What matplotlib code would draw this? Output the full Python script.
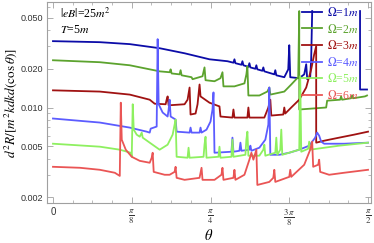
import numpy as np
import matplotlib
matplotlib.use('Agg')
import matplotlib.pyplot as plt

plt.rcParams['mathtext.fontset'] = 'stix'
plt.rcParams['font.family'] = ['Liberation Sans', 'DejaVu Sans']

nan = np.nan

# theta in degrees, rate values
th1 = [0, 13.39, 21.93, 30.47, 37.59, 44.71, 49.84, 51.55, 51.84, 52.12, 53.83, 54.12, 54.40,
       55.82, 56.11, 56.39, 57.81, 58.10, 58.38, 59.81, 60.09, 60.38, 63.23, 63.51, 63.80,
       66.08, 67.21, 67.50, 67.78, 70.35, 71.77, 72.34, 72.63, 73.48, 73.76, 74.05, nan,
       87.72, 87.72, 89.71]
v1 = [0.0328, 0.0322, 0.0311, 0.0289, 0.0264, 0.0237, 0.0229, 0.0223, 0.0237, 0.0221, 0.0215, 0.0229, 0.0213,
      0.0207, 0.0221, 0.0205, 0.0200, 0.0213, 0.0198, 0.0193, 0.0205, 0.0191, 0.0181, 0.0195, 0.0178,
      0.0172, 0.0198, 0.0305, 0.0172, 0.0169, 0.0181, 0.0217, 0.0166, 0.0172, 0.0237, 0.0562, nan,
      0.0562, 0.0138, 0.0138]

th2 = [0, 13.39, 21.93, 30.47, 33.32, 33.61, 33.89, 36.17, 36.46, 36.74, 39.59, 39.87, 42.72, 43.29, 43.58,
       46.14, 47.85, 48.42, 48.70, 51.84, 54.69, 55.25, 55.54, 55.82, 58.96, 61.23, 61.80, 62.09, 66.08,
       68.07, 69.49, 70.06, 70.35, 70.35, 78.04, 78.32, 82.02, 82.31, 82.59, 85.15, 85.44, 85.72, 89.14, 89.71]
v2 = [0.0233, 0.0225, 0.0213, 0.0191, 0.0188, 0.0198, 0.0184, 0.0181, 0.0195, 0.0178, 0.0172, 0.0166, 0.0175, 0.0205, 0.0163,
      0.0160, 0.0169, 0.0188, 0.0146, 0.0146, 0.0154, 0.0181, 0.0209, 0.0124, 0.0124, 0.0133, 0.0143, 0.0126, 0.0133,
      0.0151, 0.0166, 0.0172, 0.0562, 0.00965, 0.0100, 0.0113, 0.0115, 0.0122, 0.0115, 0.0118, 0.0124, 0.0118, 0.0122, 0.0124]

th3 = [0, 13.39, 21.93, 27.63, 29.05, 32.18, 32.47, 32.75, 33.04, 37.59, 38.45, 39.02, 39.30, 40.73, 41.30,
       41.87, 42.15, 44.71, 47.56, 47.85, 51.27, 51.55, 51.84, 55.54, 55.82, 56.11, 60.38, 61.52, 62.09, 62.37,
       65.79, 66.08, 66.36, 68.07, 70.35, 72.34, 73.76, 74.62, 75.19, 75.19, 77.47, 81.74, 86.00, 90.0]
v3 = [0.0136, 0.0133, 0.0126, 0.0115, 0.0107, 0.0106, 0.0115, 0.0122, 0.0104, 0.0106, 0.0115, 0.0143, 0.00882, 0.00898, 0.0106,
      0.0151, 0.0122, 0.0109, 0.0102, 0.00851, 0.00835, 0.00965, 0.00835, 0.00835, 0.0100, 0.00835, 0.00835, 0.0100, 0.0115, 0.00866,
      0.00882, 0.0100, 0.00898, 0.0100, 0.0115, 0.0143, 0.0198, 0.0259, 0.0300, 0.00533, 0.00552, 0.00583, 0.00615, 0.00649]

th4 = [0, 13.39, 21.93, 26.77, 27.63, 27.91, 29.62, 29.90, 30.19, 31.33, 32.75, 33.04, 33.32, 33.61, 35.03,
       35.32, 39.02, 39.30, 39.59, 41.87, 42.15, 42.44, 43.86, 45.00, 45.57, 45.85, 46.14, 50.98, 51.27, 51.55,
       53.26, 53.55, 53.83, 56.11, 56.39, 56.68, 58.96, 60.66, 61.52, 61.80, 62.09, 64.65, 67.50, 70.35, 73.19,
       74.90, 75.47, 76.04, 76.61, 77.47, 83.16, 90.0]
v4 = [0.00821, 0.00764, 0.00698, 0.00649, 0.00638, 0.00685, 0.00711, 0.0340, 0.0106, 0.00914, 0.00851, 0.00965, 0.0115, 0.00851, 0.00806,
      0.00649, 0.00638, 0.00698, 0.00638, 0.00638, 0.00698, 0.00638, 0.00673, 0.00777, 0.00965, 0.0131, 0.00445, 0.00453, 0.00583, 0.00453,
      0.00461, 0.00533, 0.00461, 0.00470, 0.00505, 0.00461, 0.00487, 0.00562, 0.00736, 0.0143, 0.00429, 0.00429, 0.00445, 0.00470, 0.00505,
      0.00583, 0.00638, 0.00604, 0.00543, 0.00523, 0.00523, 0.00533]

th5 = [0, 13.39, 19.08, 22.22, 22.50, 22.78, 23.07, 23.92, 24.78, 25.35, 25.63, 27.63, 30.47, 32.75, 34.18,
       34.75, 35.03, 35.32, 38.45, 38.73, 39.02, 43.01, 43.29, 43.58, 43.86, 47.28, 47.56, 47.85, 50.98, 51.27,
       51.55, 54.97, 55.25, 55.54, 55.82, 58.96, 60.09, 60.38, 60.66, 63.51, 63.80, 64.08, 64.93, 65.22, 65.51,
       70.35, 70.63, 70.92, 72.91, 73.19, 73.48, 81.74, 90.0]
v5 = [0.00523, 0.00496, 0.00470, 0.00445, 0.00414, 0.0106, 0.00673, 0.00615, 0.00593, 0.00638, 0.00583, 0.00533, 0.00470, 0.00514, 0.00615,
      0.00736, 0.00806, 0.00414, 0.00407, 0.00487, 0.00407, 0.00414, 0.00514, 0.00593, 0.00407, 0.00414, 0.00496, 0.00407, 0.00414, 0.00562,
      0.00414, 0.00429, 0.00562, 0.00649, 0.00422, 0.00422, 0.00470, 0.00514, 0.00422, 0.00445, 0.00583, 0.00429, 0.00470, 0.00673, 0.00429,
      0.00470, 0.0175, 0.00453, 0.00478, 0.00543, 0.00470, 0.00505, 0.00533]

th6 = [0, 7.69, 13.39, 17.66, 19.08, 19.37, 19.65, 20.79, 22.50, 24.78, 27.63, 28.20, 28.48, 28.77, 31.90,
       33.32, 34.75, 35.03, 35.32, 37.59, 41.87, 42.44, 42.72, 46.14, 48.13, 48.42, 48.70, 51.55, 51.84, 52.12,
       54.69, 56.11, 56.68, 57.25, 58.10, 58.38, 61.80, 62.94, 63.23, 63.51, 67.50, 67.78, 68.07, 71.77, 73.48,
       74.05, 74.33, 75.76, 76.04, 76.33, 78.89, 83.16, 90.0]
v6 = [0.00346, 0.00340, 0.00328, 0.00311, 0.00294, 0.0109, 0.00562, 0.00470, 0.00414, 0.00385, 0.00372, 0.00407, 0.00445, 0.00316, 0.00300,
      0.00300, 0.00316, 0.00346, 0.00284, 0.00274, 0.00284, 0.00340, 0.00274, 0.00274, 0.00300, 0.00340, 0.00274, 0.00284, 0.00328, 0.00274,
      0.00300, 0.00393, 0.00445, 0.00393, 0.00470, 0.00250, 0.00264, 0.00284, 0.00328, 0.00264, 0.00289, 0.00328, 0.00289, 0.00359, 0.00470,
      0.00543, 0.00346, 0.00359, 0.00393, 0.00316, 0.00300, 0.00311, 0.00328]

curves = [(th1, v1), (th2, v2), (th3, v3), (th4, v4), (th5, v5), (th6, v6)]
labels = [r'$\Omega$=1$m$', r'$\Omega$=2$m$', r'$\Omega$=3$m$', r'$\Omega$=4$m$', r'$\Omega$=5$m$', r'$\Omega$=6$m$']
colors = ['#0c0ca8', '#5ca32e', '#a01212', '#5c5cff', '#8ef060', '#ea5555']

xtick_vals = [0, np.pi / 8, np.pi / 4, 3 * np.pi / 8, np.pi / 2]
xtick_labels = ['0', r'$\frac{\pi}{8}$', r'$\frac{\pi}{4}$', r'$\frac{3\,\pi}{8}$', r'$\frac{\pi}{2}$']
ytick_vals = [0.002, 0.005, 0.01, 0.02, 0.05]
ytick_labels = ['0.002', '0.005', '0.010', '0.020', '0.050']

fig = plt.figure(figsize=(3.74, 2.43), dpi=100)
ax = fig.add_axes([47 / 374, 1 - 203 / 243, 324 / 374, 201 / 243])

for (th, v), lab, c in zip(curves, labels, colors):
    ax.plot(np.deg2rad(th), v, color=c, lw=1.3, label=lab)

ax.set_yscale('log')
ax.set_ylim(0.00181, 0.0661)
ax.set_xlim(np.deg2rad(-1.71), np.deg2rad(90.85))

ax.set_xticks(xtick_vals)
ax.set_xticklabels(xtick_labels, fontsize=9)
ax.get_xticklabels()[0].set_fontsize(7)
ax.set_xticks(np.arange(0, 17) * np.pi / 32, minor=True)
ax.set_yticks(ytick_vals)
ax.set_yticklabels(ytick_labels, fontsize=6.5)
ax.yaxis.set_minor_locator(matplotlib.ticker.LogLocator(base=10, subs=np.arange(1, 10)))
ax.yaxis.set_minor_formatter(matplotlib.ticker.NullFormatter())

frame_c = '#a0a0a0'
for s in ax.spines.values():
    s.set_color(frame_c)
    s.set_linewidth(0.8)
ax.tick_params(which='both', direction='in', top=True, right=True, color=frame_c, labelcolor='#333333')
ax.tick_params(which='major', length=4, width=0.6, pad=3)
ax.tick_params(which='minor', length=2, width=0.5)

ax.set_ylabel(r'$d^2R/[m^2kdkd(\cos\theta)]$', fontsize=9.5, labelpad=1)
ax.set_xlabel(r'$\theta$', fontsize=10.5, labelpad=0)

ax.text(0.04, 0.94, r'$|eB|$=25$m^2$', transform=ax.transAxes, fontsize=8.5,
        family='Liberation Serif', va='center', ha='left')
ax.text(0.04, 0.861, r'$T$=5$m$', transform=ax.transAxes, fontsize=8.5,
        family='Liberation Serif', va='center', ha='left')

leg = ax.legend(loc='upper right', bbox_to_anchor=(0.96, 0.98), frameon=False,
                handlelength=1.7, handletextpad=0.35, labelspacing=0.3, borderpad=0,
                borderaxespad=0, labelcolor='linecolor', prop={'family': 'Liberation Serif', 'size': 8.5})

fig.savefig('out.png', dpi=100)
